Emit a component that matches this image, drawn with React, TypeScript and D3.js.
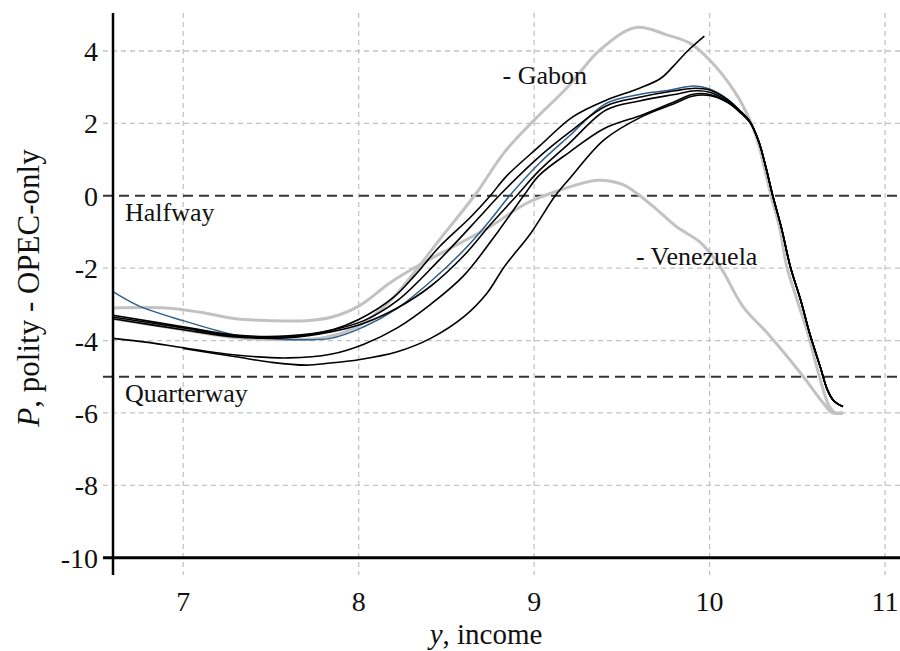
import React from "react";
import * as d3 from "d3";

type Pt = [number, number];

// x: log income, y: polity score
const xTicks = [7, 8, 9, 10, 11];
const yTicks = [4, 2, 0, -2, -4, -6, -8, -10];

const refLines = [
  { value: 0, label: "Halfway" },
  { value: -5, label: "Quarterway" },
];

const gabon: Pt[] = [
  [6.6, -3.4], [6.8, -3.55], [7.0, -3.7], [7.3, -3.92], [7.6, -3.97], [7.8, -3.92],
  [8.0, -3.6], [8.1, -3.25], [8.2, -2.8], [8.32, -2.1], [8.46, -1.22], [8.67, 0.07],
  [8.83, 1.2], [9.0, 2.09], [9.19, 3.0], [9.38, 4.05], [9.58, 4.65], [9.76, 4.44],
  [9.89, 4.21], [10.0, 3.75], [10.14, 2.9], [10.23, 2.09], [10.28, 1.4], [10.32, 0.6],
  [10.35, 0.0], [10.4, -0.9], [10.44, -1.96], [10.5, -2.9], [10.56, -3.8], [10.61, -4.72],
  [10.65, -5.4], [10.68, -5.8], [10.71, -5.98], [10.76, -6.0],
];

const venezuela: Pt[] = [
  [6.6, -3.1], [6.9, -3.1], [7.1, -3.22], [7.3, -3.4], [7.5, -3.45], [7.7, -3.45],
  [7.85, -3.35], [8.0, -3.05], [8.18, -2.4], [8.35, -1.9], [8.55, -1.38], [8.75, -0.85],
  [8.96, -0.2], [9.15, 0.16], [9.36, 0.43], [9.5, 0.32], [9.57, 0.12], [9.68, -0.3],
  [9.81, -0.85], [9.95, -1.3], [10.06, -1.96], [10.19, -3.06], [10.33, -3.8],
  [10.52, -4.91], [10.65, -5.74], [10.7, -6.0], [10.76, -6.0],
];

const countryA: Pt[] = [
  [6.6, -3.3], [7.0, -3.62], [7.3, -3.85], [7.6, -3.87], [7.85, -3.7], [8.0, -3.42],
  [8.2, -2.8], [8.32, -2.2], [8.46, -1.41], [8.64, -0.58], [8.75, 0.0], [8.84, 0.53],
  [9.03, 1.37], [9.22, 2.18], [9.41, 2.64], [9.6, 2.97], [9.72, 3.24], [9.79, 3.56],
  [9.87, 3.98], [9.97, 4.41],
];

const countryB: Pt[] = [
  [6.6, -3.35], [7.0, -3.65], [7.3, -3.88], [7.6, -3.9], [7.84, -3.72], [8.03, -3.45],
  [8.22, -2.9], [8.46, -1.77], [8.69, -0.58], [8.8, 0.0], [9.03, 1.08], [9.2, 1.75],
  [9.41, 2.48], [9.6, 2.72], [9.8, 2.9], [9.92, 2.97], [10.0, 2.92], [10.1, 2.66],
  [10.17, 2.36], [10.23, 2.05], [10.28, 1.5], [10.32, 0.8], [10.36, 0.0], [10.41, -0.9],
  [10.46, -1.96], [10.52, -2.9], [10.57, -3.8], [10.63, -4.72], [10.67, -5.35],
  [10.7, -5.62], [10.73, -5.75], [10.76, -5.82],
];

const countryC: Pt[] = [
  [6.6, -3.4], [7.0, -3.7], [7.3, -3.9], [7.6, -3.92], [7.84, -3.76], [8.03, -3.52],
  [8.22, -3.1], [8.41, -2.5], [8.6, -1.65], [8.75, -0.8], [8.9, 0.0], [9.03, 0.7],
  [9.2, 1.45], [9.41, 2.37], [9.6, 2.62], [9.8, 2.8], [9.92, 2.9], [10.0, 2.86],
  [10.1, 2.62], [10.17, 2.34], [10.23, 2.04], [10.28, 1.5], [10.32, 0.8], [10.36, 0.0],
  [10.41, -0.9], [10.46, -1.96], [10.52, -2.9], [10.57, -3.8], [10.63, -4.72],
  [10.67, -5.35], [10.7, -5.62], [10.73, -5.75], [10.76, -5.82],
];

const countryD: Pt[] = [
  [6.6, -3.94], [6.8, -4.05], [7.0, -4.2], [7.3, -4.4], [7.6, -4.48], [7.84, -4.38],
  [8.03, -4.1], [8.22, -3.65], [8.41, -3.0], [8.6, -2.2], [8.8, -0.95], [8.94, 0.0],
  [9.03, 0.57], [9.2, 1.2], [9.4, 1.86], [9.62, 2.24], [9.8, 2.6], [9.9, 2.8],
  [10.0, 2.8], [10.1, 2.6], [10.17, 2.33], [10.23, 2.03], [10.28, 1.5], [10.32, 0.8],
  [10.36, 0.0], [10.41, -0.9], [10.46, -1.96], [10.52, -2.9], [10.57, -3.8],
  [10.63, -4.72], [10.67, -5.35], [10.7, -5.62], [10.73, -5.75], [10.76, -5.82],
];

const countryE: Pt[] = [
  [7.0, -4.22], [7.3, -4.45], [7.5, -4.6], [7.7, -4.68], [7.84, -4.62], [8.0, -4.53],
  [8.22, -4.31], [8.41, -3.94], [8.6, -3.34], [8.73, -2.7], [8.83, -1.96], [8.98, -1.04],
  [9.12, 0.0], [9.21, 0.52], [9.4, 1.55], [9.62, 2.2], [9.8, 2.55], [9.9, 2.75],
  [10.0, 2.77], [10.1, 2.58], [10.17, 2.32], [10.23, 2.02], [10.28, 1.5], [10.32, 0.8],
  [10.36, 0.0], [10.41, -0.9], [10.46, -1.96], [10.52, -2.9], [10.57, -3.8],
  [10.63, -4.72], [10.67, -5.35], [10.7, -5.62], [10.73, -5.75], [10.76, -5.82],
];

const countryBlue: Pt[] = [
  [6.6, -2.65], [6.75, -3.05], [7.0, -3.45], [7.3, -3.85], [7.5, -3.95], [7.84, -3.94],
  [8.03, -3.62], [8.22, -3.11], [8.41, -2.37], [8.6, -1.5], [8.75, -0.67], [8.86, 0.0],
  [9.03, 0.9], [9.2, 1.65], [9.41, 2.55], [9.6, 2.8], [9.75, 2.9], [9.91, 3.03],
  [10.0, 2.95], [10.1, 2.68], [10.17, 2.37], [10.23, 2.05], [10.28, 1.5], [10.32, 0.8],
  [10.36, 0.0], [10.41, -0.9], [10.46, -1.96], [10.52, -2.9], [10.57, -3.8],
  [10.63, -4.72], [10.67, -5.35], [10.7, -5.62], [10.73, -5.75], [10.76, -5.82],
];

const countryLabels = [
  { name: "- Gabon", x: 8.82, y: 3.1 },
  { name: "- Venezuela", x: 9.58, y: -1.9 },
];

const W = 900;
const H = 651;
const FONT = "Liberation Serif, Tinos, Times New Roman, Times, DejaVu Serif, serif";

export default function App() {
  const x = d3.scaleLinear().domain([6.6, 11.085]).range([113, 900]);
  const y = d3.scaleLinear().domain([-10, 4]).range([557.7, 51]);
  const top = y(5.05);
  const bottom = y(-10.48);
  const line = d3
    .line<Pt>()
    .x((d) => x(d[0]))
    .y((d) => y(d[1]))
    .curve(d3.curveCatmullRom.alpha(0.5));

  const grays = [venezuela, gabon];
  const blacks = [countryE, countryD, countryC, countryB, countryA];

  return (
    <div style={{ position: "fixed", left: 0, top: 0 }}>
      <svg width={W} height={H} style={{ display: "block", background: "#fff" }}>
        {/* grid */}
        {xTicks.map((t) => (
          <line key={"gx" + t} x1={x(t)} x2={x(t)} y1={top} y2={bottom}
            stroke="#c4c4c4" strokeWidth={1.3} strokeDasharray="5,4" />
        ))}
        {yTicks.filter((t) => t !== 0 && t !== -10).map((t) => (
          <line key={"gy" + t} x1={103} x2={W} y1={y(t)} y2={y(t)}
            stroke="#c4c4c4" strokeWidth={1.3} strokeDasharray="5,4" />
        ))}

        {/* reference levels */}
        {refLines.map((r) => (
          <g key={r.label}>
            <line x1={103} x2={W} y1={y(r.value)} y2={y(r.value)}
              stroke="#333" strokeWidth={2} strokeDasharray="10,6" />
            <text x={125} y={y(r.value) + 25} fontFamily={FONT} fontSize={26} fill="#111">
              {r.label}
            </text>
          </g>
        ))}

        {/* series */}
        {grays.map((s, i) => (
          <path key={"g" + i} d={line(s) || ""} fill="none" stroke="#c2c2c2" strokeWidth={3} />
        ))}
        <path d={line(countryBlue) || ""} fill="none" stroke="#2f5f8a" strokeWidth={1.5} />
        {blacks.map((s, i) => (
          <path key={"b" + i} d={line(s) || ""} fill="none" stroke="#000" strokeWidth={1.6} />
        ))}

        {countryLabels.map((c) => (
          <text key={c.name} x={x(c.x)} y={y(c.y)} fontFamily={FONT} fontSize={26} fill="#111">
            {c.name}
          </text>
        ))}

        {/* axes */}
        <line x1={113} x2={113} y1={top} y2={bottom} stroke="#000" strokeWidth={2.5} />
        <line x1={103} x2={W} y1={y(-10)} y2={y(-10)} stroke="#000" strokeWidth={3} />

        {yTicks.map((t) => (
          <text key={"yl" + t} x={98} y={y(t) + 10} textAnchor="end"
            fontFamily={FONT} fontSize={28} fill="#111">
            {t}
          </text>
        ))}
        {xTicks.map((t) => (
          <text key={"xl" + t} x={x(t)} y={611} textAnchor="middle"
            fontFamily={FONT} fontSize={28} fill="#111">
            {t}
          </text>
        ))}

        <text x={486} y={644} textAnchor="middle" fontFamily={FONT} fontSize={29} fill="#111">
          <tspan fontStyle="italic">y</tspan>, income
        </text>
        <text transform="translate(39,288) rotate(-90)" textAnchor="middle"
          fontFamily={FONT} fontSize={31} fill="#111">
          <tspan fontStyle="italic">P</tspan>, polity - OPEC-only
        </text>
      </svg>
    </div>
  );
}
